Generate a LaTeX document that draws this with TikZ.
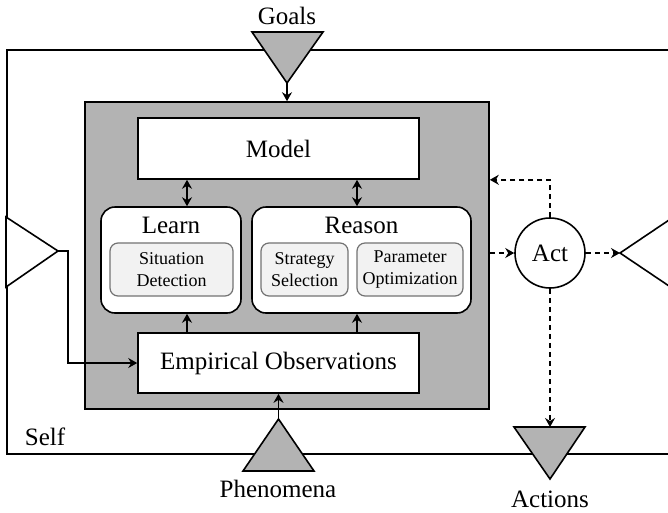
\documentclass[tikz,border=0pt]{standalone}
\usepackage{fontspec}
\setmainfont{Liberation Serif}
\newfontfamily\tnr{Liberation Serif}
\usetikzlibrary{arrows.meta}
\definecolor{boxgray}{RGB}{179,179,179}
\definecolor{subfill}{RGB}{242,242,242}
\definecolor{subline}{RGB}{115,115,115}
\begin{document}
\begin{tikzpicture}[x=1pt,y=-1pt,line width=1.6pt,
  big/.style={font=\tnr\fontsize{25}{30}\selectfont},
  small/.style={font=\tnr\fontsize{18}{22}\selectfont,align=center},
  graybox/.style={draw,fill=boxgray,inner sep=0pt},
  whitebox/.style={draw,fill=white,inner sep=0pt,big},
  roundbox/.style={draw,fill=white,rounded corners=14pt,inner sep=0pt},
  subbox/.style={draw=subline,fill=subfill,line width=1.2pt,rounded corners=8pt,inner sep=0pt,small},
  tri/.style={draw,fill=boxgray},
  tip/.style={-{Stealth[length=9pt,width=10pt,inset=3pt]}},
  dbl/.style={{Stealth[length=9pt,width=10pt,inset=3pt]}-{Stealth[length=9pt,width=10pt,inset=3pt]}},
  dashtip/.style={tip,dash pattern=on 5pt off 4pt}]
\useasboundingbox (0,0) rectangle (668,512);
\clip (0,0) rectangle (668,512);
% Self boundary
\node[draw,fill=white,inner sep=0pt,minimum width=666pt,minimum height=404pt,anchor=north west] (self) at (6,49) {};
\node[big,anchor=base] (selflbl) at (45,445) {Self};
% core gray box
\node[graybox,minimum width=404pt,minimum height=307pt] (core) at (287,255.5) {};
\node[whitebox,minimum width=281pt,minimum height=61pt] (model) at (278.5,148.5) {Model};
\node[roundbox,minimum width=140pt,minimum height=106pt] (learn) at (171,260) {};
\node[roundbox,minimum width=219pt,minimum height=106pt] (reason) at (361.5,260) {};
\node[big,anchor=base] (learnlbl) at (171,233) {Learn};
\node[big,anchor=base] (reasonlbl) at (361.5,233) {Reason};
\node[subbox,minimum width=123pt,minimum height=53pt] (situ) at (171.5,269.5) {Situation\\Detection};
\node[subbox,minimum width=87pt,minimum height=53pt] (strat) at (304.5,269.5) {Strategy\\Selection};
\node[subbox,minimum width=106pt,minimum height=53pt] (param) at (410,269.5) {Parameter\\Optimization};
\node[whitebox,minimum width=281pt,minimum height=60pt] (emp) at (278.5,363) {Empirical Observations};
% inner arrows
\draw[dbl] ([xshift=16pt]learn.north |- model.south) -- ([xshift=16pt]learn.north);
\draw[dbl] ([xshift=-4.5pt]reason.north |- model.south) -- ([xshift=-4.5pt]reason.north);
\draw[tip] ([xshift=16pt]learn.south |- emp.north) -- ([xshift=16pt]learn.south);
\draw[tip] ([xshift=-4.5pt]reason.south |- emp.north) -- ([xshift=-4.5pt]reason.south);
% Goals
\draw[tri] (252,32) -- (323,32) -- (287,83) -- cycle;
\coordinate (goalstip) at (287,83);
\node[big,anchor=base] (goalslbl) at (287,24) {Goals};
\draw[tip] (goalstip) -- (core.north);
% Phenomena
\draw[tri] (243,471) -- (314,471) -- (278.5,419) -- cycle;
\coordinate (phentip) at (278.5,419);
\node[big,anchor=base] (phenlbl) at (278,497) {Phenomena};
\draw[tip] (phentip) -- (emp.south);
% left input triangle
\draw[fill=white] (6,217) -- (58,251) -- (6,287) -- cycle;
\coordinate (ltip) at (58,251);
\draw[tip] (ltip) -- ++(10,0) |- (emp.west);
% Act
\node[draw,circle,fill=white,minimum size=70pt,inner sep=0pt,big] (act) at (550,253) {Act};
\draw[dashtip] (core.east |- act.west) -- (act.west);
\draw[dashtip] (act.north) |- (core.east |- model.south);
% right output triangle
\draw[fill=white] (672,218) -- (620,253) -- (672,288) -- cycle;
\coordinate (rtip) at (620,253);
\draw[dashtip] (act.east) -- (rtip);
% Actions
\draw[tri] (514,427) -- (585,427) -- (550,479) -- cycle;
\coordinate (acttop) at (550,427);
\node[big,anchor=base] (actlbl) at (550,507) {Actions};
\draw[dashtip] (act.south) -- (acttop);
\end{tikzpicture}
\end{document}
